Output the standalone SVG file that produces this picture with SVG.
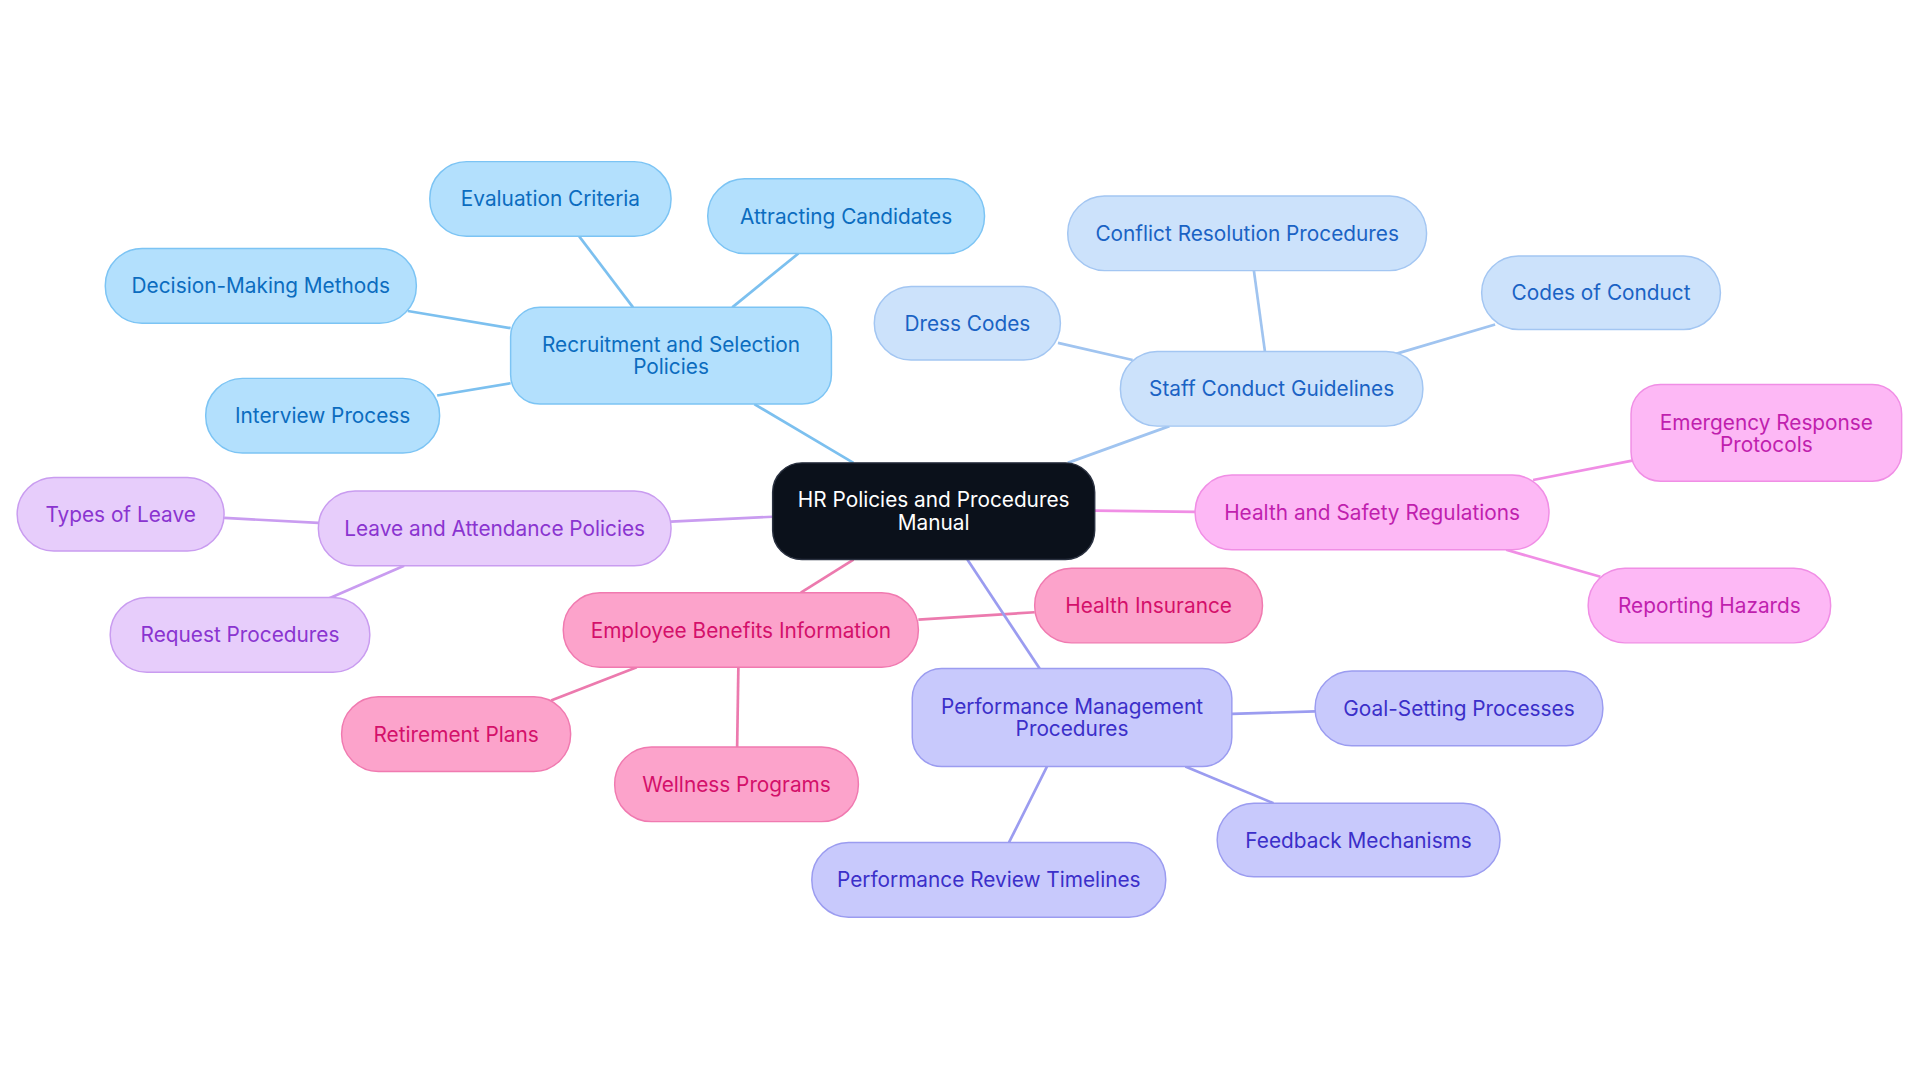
<svg xmlns="http://www.w3.org/2000/svg" width="1920" height="1083" viewBox="0 0 1920 1083">
<style>
text{font-family:Inter,"Noto Sans",sans-serif;font-size:17px;text-anchor:middle;dominant-baseline:central}
.b rect{fill:#b3e0fd;stroke:#7cc4f4}.b text{fill:#0b6cbf}
.s rect{fill:#cce2fb;stroke:#a3c6f2}.s text{fill:#1a62c4}
.h rect{fill:#fdb8f5;stroke:#f08ee5}.h text{fill:#c01fae}
.l rect{fill:#e7cdfb;stroke:#c99cf0}.l text{fill:#8a34d0}
.e rect{fill:#fca3cb;stroke:#f07ab0}.e text{fill:#d4106a}
.p rect{fill:#c8c9fc;stroke:#9b9cf0}.p text{fill:#3b2fc9}
rect{stroke-width:1.2}
#edges line{stroke-width:2.2}
</style>
<rect width="1920" height="1083" fill="#fff"/>
<g transform="scale(1.2245)">
<g id="edges">
<g stroke="#7cc0ef"><line x1="616" y1="330" x2="697" y2="378"/><line x1="473" y1="193" x2="517" y2="251"/><line x1="652" y1="207" x2="598" y2="251"/><line x1="333" y1="254" x2="417" y2="268"/><line x1="357" y1="323" x2="417" y2="313"/></g>
<g stroke="#a0c4f0"><line x1="955" y1="348" x2="872" y2="378"/><line x1="1024" y1="221" x2="1033" y2="287"/><line x1="1221" y1="265" x2="1140" y2="289"/><line x1="864" y1="280" x2="925" y2="294"/></g>
<g stroke="#f08ee5"><line x1="894" y1="417" x2="976" y2="418"/><line x1="1334" y1="376" x2="1252" y2="392"/><line x1="1230" y1="449" x2="1307" y2="471"/></g>
<g stroke="#c99cf0"><line x1="631" y1="422" x2="548" y2="426"/><line x1="183" y1="423" x2="260" y2="427"/><line x1="330" y1="462" x2="268" y2="489"/></g>
<g stroke="#ec7aae"><line x1="697" y1="457" x2="654" y2="484"/><line x1="750" y1="506" x2="845" y2="500"/><line x1="520" y1="545" x2="450" y2="572"/><line x1="603" y1="545" x2="602" y2="610"/></g>
<g stroke="#9b9cf0"><line x1="790" y1="457" x2="849" y2="546"/><line x1="1006" y1="583" x2="1074" y2="581"/><line x1="968" y1="626" x2="1040" y2="656"/><line x1="855" y1="626" x2="824" y2="688"/></g>
</g>
<g id="center"><rect x="631" y="378" width="263" height="79" rx="24" fill="#0b111b" stroke="#2a3140"/><text x="762.5" y="408" fill="#fff">HR Policies and Procedures</text><text x="762.5" y="427" fill="#fff">Manual</text></g>
<g id="recruit" class="b"><rect x="417" y="251" width="262" height="79" rx="24"/><text x="548" y="281">Recruitment and Selection</text><text x="548" y="299">Policies</text></g>
<g id="eval" class="b"><rect x="351" y="132" width="197" height="61" rx="30"/><text x="449.5" y="162.5">Evaluation Criteria</text></g>
<g id="attract" class="b"><rect x="578" y="146" width="226" height="61" rx="30"/><text x="691" y="176.5">Attracting Candidates</text></g>
<g id="decision" class="b"><rect x="86" y="203" width="254" height="61" rx="30"/><text x="213" y="233.5">Decision-Making Methods</text></g>
<g id="interview" class="b"><rect x="168" y="309" width="191" height="61" rx="30"/><text x="263.5" y="339.5">Interview Process</text></g>
<g id="staff" class="s"><rect x="915" y="287" width="247" height="61" rx="30"/><text x="1038.5" y="317.5">Staff Conduct Guidelines</text></g>
<g id="conflict" class="s"><rect x="872" y="160" width="293" height="61" rx="30"/><text x="1018.5" y="190.5">Conflict Resolution Procedures</text></g>
<g id="codes" class="s"><rect x="1210" y="209" width="195" height="60" rx="30"/><text x="1307.5" y="239">Codes of Conduct</text></g>
<g id="dress" class="s"><rect x="714" y="234" width="152" height="60" rx="30"/><text x="790" y="264">Dress Codes</text></g>
<g id="health" class="h"><rect x="976" y="388" width="289" height="61" rx="30"/><text x="1120.5" y="418.5">Health and Safety Regulations</text></g>
<g id="emergency" class="h"><rect x="1332" y="314" width="221" height="79" rx="24"/><text x="1442.5" y="345">Emergency Response</text><text x="1442.5" y="363">Protocols</text></g>
<g id="hazards" class="h"><rect x="1297" y="464" width="198" height="61" rx="30"/><text x="1396" y="494.5">Reporting Hazards</text></g>
<g id="leave" class="l"><rect x="260" y="401" width="288" height="61" rx="30"/><text x="404" y="431.5">Leave and Attendance Policies</text></g>
<g id="types" class="l"><rect x="14" y="390" width="169" height="60" rx="30"/><text x="98.5" y="420">Types of Leave</text></g>
<g id="request" class="l"><rect x="90" y="488" width="212" height="61" rx="30"/><text x="196" y="518.5">Request Procedures</text></g>
<g id="benefits" class="e"><rect x="460" y="484" width="290" height="61" rx="30"/><text x="605" y="514.5">Employee Benefits Information</text></g>
<g id="insurance" class="e"><rect x="845" y="464" width="186" height="61" rx="30"/><text x="938" y="494.5">Health Insurance</text></g>
<g id="retire" class="e"><rect x="279" y="569" width="187" height="61" rx="30"/><text x="372.5" y="599.5">Retirement Plans</text></g>
<g id="wellness" class="e"><rect x="502" y="610" width="199" height="61" rx="30"/><text x="601.5" y="640.5">Wellness Programs</text></g>
<g id="perf" class="p"><rect x="745" y="546" width="261" height="80" rx="24"/><text x="875.5" y="577">Performance Management</text><text x="875.5" y="595">Procedures</text></g>
<g id="goal" class="p"><rect x="1074" y="548" width="235" height="61" rx="30"/><text x="1191.5" y="578.5">Goal-Setting Processes</text></g>
<g id="feedback" class="p"><rect x="994" y="656" width="231" height="60" rx="30"/><text x="1109.5" y="686">Feedback Mechanisms</text></g>
<g id="review" class="p"><rect x="663" y="688" width="289" height="61" rx="30"/><text x="807.5" y="718.5">Performance Review Timelines</text></g>
</g>
</svg>
